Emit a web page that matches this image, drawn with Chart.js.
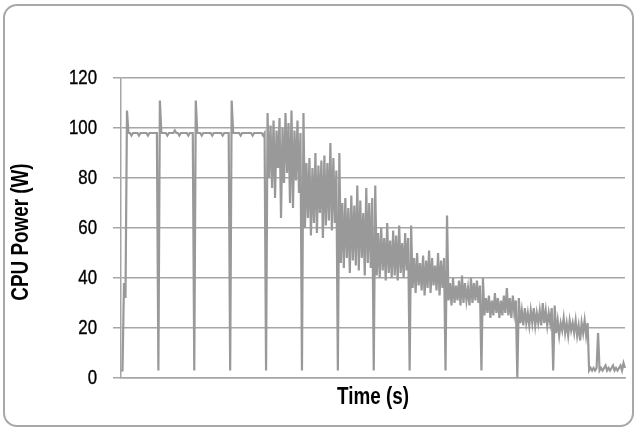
<!DOCTYPE html>
<html lang="en">
<head>
    <meta charset="UTF-8">
    <title>CPU Power</title>
    <script src="https://cdn.jsdelivr.net/npm/chart.js"></script>
    <style>
        body { margin: 0; background: #fff; }
        #wrap { position: relative; width: 636px; height: 429px; }
        #frame {
            position: absolute; left: 3px; top: 4px; width: 627px; height: 419px;
            border: 2px solid #a8a8a8; border-radius: 14px; pointer-events: none;
        }
        canvas { position: absolute; left: 0; top: 0; }
    </style>
</head>
<body>
    <div id="wrap">
        <canvas id="powerChart" width="636" height="429"></canvas>
        <div id="frame"></div>
    </div>

    <script>
        // CPU power samples, one array per load phase (W)
        const rampUp = [3, 3, 38, 32, 107, 98, 98, 97, 98, 98, 98, 98, 97, 98, 98, 98, 98, 98, 97, 98, 98, 98, 98, 98, 98];
        const phase1 = [3, 111, 98, 98, 98, 98, 97, 98, 98, 98, 98, 99, 98, 98, 97, 98, 98, 98, 98, 98, 97, 98, 98, 98];
        const phase2 = [3, 111, 98, 98, 98, 97, 98, 98, 98, 98, 98, 98, 97, 98, 98, 98, 98, 98, 98, 97, 98, 98, 98, 98];
        const phase3 = [3, 111, 98, 98, 98, 98, 98, 97, 98, 98, 98, 98, 98, 98, 98, 97, 98, 98, 98, 98, 98, 98, 97, 98];
        const phase4 = [3, 106, 80, 101, 76, 103, 72, 99, 84, 104, 64, 100, 78, 106, 82, 102, 70, 107, 68, 99, 79, 103, 74, 98];
        const phase5 = [3, 106, 60, 86, 64, 88, 57, 84, 62, 90, 58, 85, 66, 87, 56, 89, 61, 86, 63, 94, 59, 88, 62, 83];
        const phase6 = [3, 90, 46, 70, 44, 72, 48, 68, 42, 73, 47, 69, 45, 77, 43, 71, 48, 66, 41, 76, 46, 70, 44, 72];
        const phase7 = [3, 77, 41, 58, 40, 60, 43, 56, 39, 62, 42, 55, 40, 59, 41, 57, 39, 61, 42, 54, 40, 58, 43, 56];
        const phase8 = [3, 61, 36, 48, 34, 50, 37, 46, 35, 49, 33, 47, 36, 51, 34, 48, 37, 45, 35, 50, 33, 47, 36, 48];
        const phase9 = [3, 65, 31, 38, 29, 40, 30, 37, 31, 39, 29, 41, 30, 38, 31, 36, 29, 40, 30, 38, 31, 39, 30, 37];
        const phase10 = [3, 40, 25, 32, 26, 33, 24, 31, 25, 34, 26, 32, 24, 31, 25, 33, 26, 36, 25, 32, 24, 33, 26, 31];
        const phase11 = [0, 32, 22, 27, 21, 28, 22, 26, 21, 27, 22, 28, 21, 26, 22, 27, 21, 30, 22, 27, 21, 26, 22, 28];
        const phase12 = [3, 29, 18, 23, 17, 22, 19, 24, 18, 22, 17, 23, 19, 22, 18, 23, 17, 21, 15, 22, 18, 23, 17, 22];
        const idle = [3, 4, 3, 4, 3, 4, 18, 3, 4, 3, 4, 5, 3, 4, 3, 4, 5, 3, 4, 3, 4, 5, 3, 6, 4];

        const yTicks = [0, 20, 40, 60, 80, 100, 120];
        const yTitle = 'CPU Power (W)';
        const xTitle = 'Time (s)';

        const power = [].concat(rampUp, phase1, phase2, phase3, phase4, phase5, phase6,
            phase7, phase8, phase9, phase10, phase11, phase12, idle);
        const samples = power.map((_, i) => i);

        const gridColor = '#a6a6a6';
        const narrow = 0.8; // squeeze to look like a narrow face

        // draws tick labels and axis titles in a condensed style
        const narrowText = {
            id: 'narrowText',
            afterDraw(chart) {
                const c = chart.ctx;
                const area = chart.chartArea;
                const y = chart.scales.y;
                c.save();
                c.fillStyle = '#000';
                c.strokeStyle = '#000';
                c.textBaseline = 'middle';

                c.font = '21px "Liberation Sans", Arial, sans-serif';
                c.textAlign = 'right';
                c.lineWidth = 0.4;
                y.ticks.forEach(t => {
                    c.save();
                    c.translate(y.right - 24, y.getPixelForValue(t.value));
                    c.scale(narrow, 1);
                    c.fillText(String(t.value), 0, 0);
                    c.strokeText(String(t.value), 0, 0);
                    c.restore();
                });

                c.font = 'bold 23px "Liberation Sans", Arial, sans-serif';
                c.textAlign = 'center';
                c.save();
                c.translate(22, (area.top + area.bottom) / 2 + 4);
                c.rotate(-Math.PI / 2);
                c.scale(0.82, 1);
                c.fillText(yTitle, 0, 0);
                c.restore();

                c.save();
                c.translate((area.left + area.right) / 2, area.bottom + 20);
                c.scale(0.82, 1);
                c.fillText(xTitle, 0, 0);
                c.restore();

                c.restore();
            }
        };

        const ctx = document.getElementById('powerChart').getContext('2d');
        new Chart(ctx, {
            type: 'line',
            data: {
                labels: samples,
                datasets: [{
                    data: power,
                    borderColor: '#999999',
                    borderWidth: 2.2,
                    pointRadius: 0,
                    tension: 0,
                    fill: false
                }]
            },
            plugins: [narrowText],
            options: {
                responsive: false,
                animation: false,
                devicePixelRatio: 1,
                layout: { padding: { top: 78, right: 11, bottom: 0, left: 0 } },
                plugins: { legend: { display: false }, tooltip: { enabled: false } },
                scales: {
                    x: {
                        type: 'category',
                        offset: false,
                        grid: { display: false },
                        border: { display: true, color: gridColor, width: 1.5 },
                        ticks: { display: false },
                        afterFit: (scale) => { scale.height = 51; }
                    },
                    y: {
                        min: 0,
                        max: 120,
                        afterBuildTicks: (scale) => {
                            scale.ticks = yTicks.map(v => ({ value: v }));
                        },
                        grid: {
                            color: gridColor,
                            lineWidth: 1.5,
                            tickLength: 8,
                            drawTicks: true
                        },
                        border: { display: true, color: gridColor, width: 1.5 },
                        ticks: { display: false },
                        afterFit: (scale) => { scale.width = 121; }
                    }
                }
            }
        });
    </script>
</body>
</html>
